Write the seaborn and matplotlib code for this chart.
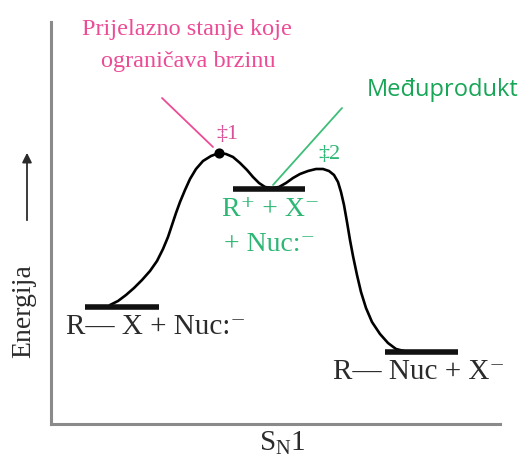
import matplotlib
matplotlib.use("Agg")
import matplotlib.pyplot as plt
import seaborn as sns
import pandas as pd

sns.set_theme(style="white")
plt.rcParams["font.family"] = ["Liberation Serif", "DejaVu Serif"]
plt.rcParams["mathtext.fontset"] = "custom"
plt.rcParams["mathtext.rm"] = "Liberation Serif"
plt.rcParams["mathtext.it"] = "Liberation Serif"

# ---- data (reaction coordinate, energy) ----
path_x = [59, 67, 75, 83, 91, 99, 106, 112, 117, 121, 125, 129, 134, 139, 145, 152,
          160, 168, 175, 182, 189, 196, 202, 208, 214, 221, 228, 235, 242, 249, 257,
          265, 272, 278, 283, 287, 290, 293, 296, 299, 302, 306, 310, 315, 321, 329,
          337, 345, 353]
path_e = [119, 123, 129, 136, 144, 153, 163, 175, 187, 199, 211, 222, 234, 245, 255, 263,
          268, 271, 270, 267, 261, 254, 247, 241, 237, 236, 237, 241, 246, 250, 253,
          255, 255, 253, 249, 242, 232, 219, 202, 184, 168, 149, 132, 116, 102, 90,
          81, 75, 73]

level_names = ["reaktanti", "međuprodukt", "produkti"]
level_x0 = [34, 182, 334]
level_x1 = [108, 254, 407]
level_e = [117, 235, 72]

ts1_x, ts1_e = 168, 271

PINK = "#EC4C96"
GREEN = "#17A556"
TEAL = "#2DB774"
DARK = "#2B2B2B"

fig = plt.figure(figsize=(5.25, 4.61), dpi=100)
ax = fig.add_axes([51 / 525, 37 / 461, 449 / 525, 402 / 461])

df = pd.DataFrame({"x": path_x, "e": path_e})
sns.lineplot(data=df, x="x", y="e", sort=False, color="black", lw=1.9, ax=ax)

for x0, x1, e in zip(level_x0, level_x1, level_e):
    ax.plot([x0, x1], [e, e], color="#111111", lw=4.0, solid_capstyle="butt")

ax.scatter([ts1_x], [ts1_e], s=40, color="black", zorder=5)

ax.set_xlim(0, 449)
ax.set_ylim(0, 402)
ax.set_xticks([])
ax.set_yticks([])
ax.set_xlabel("")
ax.set_ylabel("")
for s in ["top", "right"]:
    ax.spines[s].set_visible(False)
for s in ["left", "bottom"]:
    ax.spines[s].set_color("#8a8a8a")
    ax.spines[s].set_linewidth(2.2)

# annotations
ax.text(136, 394, "Prijelazno stanje koje", color=PINK,
        fontsize=17.5, ha="center", va="center", clip_on=False)
ax.text(137, 362, "ograničava brzinu", color=PINK,
        fontsize=17.5, ha="center", va="center", clip_on=False)
ax.plot([111, 162], [326, 277], color=PINK, lw=1.3)
ax.text(392, 334, "Međuprodukt", color=GREEN, fontsize=17, ha="center",
        va="center", family=["Open Sans", "DejaVu Sans"], clip_on=False)
ax.plot([291, 222], [316, 239], color="#3DBE78", lw=1.3)

ax.text(176, 290, "‡1", color="#D9509A", fontsize=16, ha="center", va="center")
ax.text(278, 269, "‡2", color=TEAL, fontsize=16, ha="center", va="center")
ax.text(220, 214, "R⁺ + X⁻", color=TEAL, fontsize=20, ha="center", va="center")
ax.text(219, 180, "+ Nuc:⁻", color=TEAL, fontsize=20, ha="center", va="center")
ax.text(105, 97, "R— X + Nuc:⁻", color=DARK, fontsize=21, ha="center", va="center")
ax.text(368, 52, "R— Nuc + X⁻", color=DARK, fontsize=21, ha="center", va="center",
        clip_on=False)

fig.text(24 / 525, 1 - 311 / 461, "Energija", rotation=90, color=DARK,
         fontsize=20, ha="center", va="center")
fig.add_artist(matplotlib.patches.FancyArrowPatch(
    (27 / 525, 1 - 223 / 461), (27 / 525, 1 - 150 / 461),
    transform=fig.transFigure, arrowstyle="-|>", mutation_scale=14,
    color=DARK, lw=1.3))
fig.text(282 / 525, 1 - 443 / 461, r"S$_\mathrm{N}$1", color=DARK,
         fontsize=21, ha="center", va="center")

fig.savefig("out.png", dpi=100)
